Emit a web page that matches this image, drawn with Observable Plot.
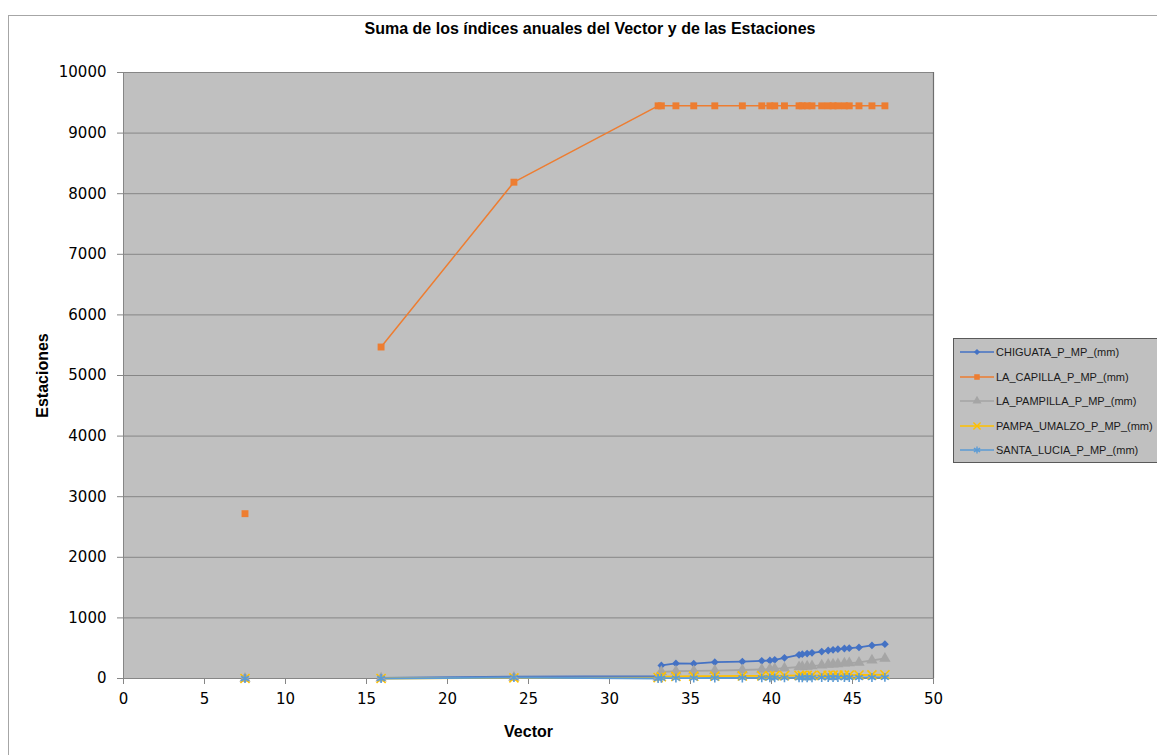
<!DOCTYPE html>
<html>
<head>
<meta charset="utf-8">
<script src="https://cdn.jsdelivr.net/npm/d3@7"></script>
<script src="https://cdn.jsdelivr.net/npm/@observablehq/plot@0.6"></script>
<style>
  body { margin: 0; background: #fff; }
  #chart { position: relative; width: 1157px; height: 755px; overflow: hidden; font-family: "Liberation Sans", Arial, sans-serif; }
  #border { position: absolute; left: 8px; top: 15px; width: 1200px; height: 800px; border: 1px solid #a6a6a6; box-sizing: border-box; }
  #title { position: absolute; left: 0; width: 1180px; top: 20px; text-align: center; font-weight: bold; font-size: 16px; color: #000; }
  #plot { position: absolute; left: 0; top: 0; }
  #legend { position: absolute; left: 953px; top: 338px; width: 230px; height: 125px; border: 1px solid #595959; background: #c0c0c0; box-sizing: border-box; }
  #legend .row { position: absolute; left: 6px; height: 20px; display: flex; align-items: center; font-size: 11px; color: #1a1a1a; white-space: nowrap; }
  #legend svg { margin-right: 2px; }
</style>
</head>
<body>
<div id="chart">
  <div id="border"></div>
  <div id="title">Suma de los índices anuales del Vector y de las Estaciones</div>
  <div id="plot"></div>
  <div id="legend"></div>
</div>
<script>
// Vector (x) shared by every station series
const vector = [7.5, 15.9, 24.1, 33.0, 33.2, 34.1, 35.2, 36.5, 38.2, 39.4, 39.9, 40.2, 40.8,
                41.7, 41.9, 42.2, 42.5, 43.1, 43.5, 43.8, 44.1, 44.5, 44.8, 45.4, 46.2, 47.0];

// Accumulated annual indices per station
const chiguata    = [0, 10, 30, 40, 215, 248, 245, 269, 280, 292, 297, 308, 341,
                     391, 401, 412, 423, 445, 462, 473, 484, 495, 500, 512, 545, 566];
const laCapilla   = [2720, 5470, 8190, 9450, 9450, 9450, 9450, 9450, 9450, 9450, 9450, 9450, 9450,
                     9450, 9450, 9450, 9450, 9450, 9450, 9450, 9450, 9450, 9450, 9450, 9450, 9450];
const laPampilla  = [0, 5, 15, 20, 110, 120, 125, 130, 140, 150, 155, 160, 170,
                     190, 195, 200, 205, 220, 230, 235, 240, 250, 255, 265, 300, 330];
const pampaUmalzo = [0, 0, 10, 15, 30, 35, 38, 40, 42, 44, 45, 46, 48,
                     50, 50, 51, 52, 53, 54, 55, 55, 56, 57, 58, 60, 62];
const santaLucia  = [0, 0, 15, 0, 5, 6, 7, 8, 9, 10, 10, 11, 11,
                     12, 12, 13, 13, 14, 14, 15, 15, 15, 16, 16, 17, 18];

const xTicks = [0, 5, 10, 15, 20, 25, 30, 35, 40, 45, 50];
const yTicks = [0, 1000, 2000, 3000, 4000, 5000, 6000, 7000, 8000, 9000, 10000];

const seriesNames = ["CHIGUATA_P_MP_(mm)", "LA_CAPILLA_P_MP_(mm)", "LA_PAMPILLA_P_MP_(mm)",
                     "PAMPA_UMALZO_P_MP_(mm)", "SANTA_LUCIA_P_MP_(mm)"];
const seriesValues = [chiguata, laCapilla, laPampilla, pampaUmalzo, santaLucia];
const seriesColors = ["#4472c4", "#ed7d31", "#a5a5a5", "#ffc000", "#5b9bd5"];

// marker style per series (diamond, square, triangle, x, asterisk)
const markers = [
  {symbol: "square", r: 3.1, rotate: 45, filled: true},
  {symbol: "square", r: 3.9, rotate: 0, filled: true},
  {symbol: "triangle", r: 4.2, rotate: 0, filled: true},
  {symbol: "times", r: 4.2, rotate: 0, filled: false},
  {symbol: "asterisk", r: 4.2, rotate: 0, filled: false}
];

const rows = seriesValues.map((vals, s) =>
  vector.map((x, i) => ({x, y: vals[i], i, s}))
);

const fmt = d => String(d);

const marks = [
  Plot.frame({fill: "#c0c0c0", stroke: null}),
  Plot.gridY(yTicks.slice(1), {stroke: "#868686", strokeOpacity: 1, strokeWidth: 1}),
  Plot.axisY(yTicks, {tickSize: 6, text: null, stroke: "#868686", label: null}),
  Plot.axisY(yTicks, {tickSize: 0, tickPadding: 17, fill: "#000", fontSize: 15, fontFamily: "DejaVu Sans", tickFormat: fmt, label: null}),
  Plot.axisX(xTicks, {tickSize: 6, text: null, stroke: "#868686", label: null}),
  Plot.axisX(xTicks, {tickSize: 0, tickPadding: 15, fill: "#000", fontSize: 15, fontFamily: "DejaVu Sans", tickFormat: fmt, label: null}),
  Plot.ruleX([0], {stroke: "#868686"}),
  Plot.ruleY([0], {stroke: "#868686"}),
  Plot.ruleX([50], {stroke: "#6e6e6e", strokeWidth: 1.2}),
  Plot.text(["Estaciones"], {frameAnchor: "left", textAnchor: "middle", dx: -81, rotate: -90, fontWeight: "bold", fontSize: 16, fill: "#000"}),
  Plot.text(["Vector"], {frameAnchor: "bottom", dy: 58, fontWeight: "bold", fontSize: 16, fill: "#000"})
];

// lines start at the second vector value: the first reading stands alone
rows.forEach((data, s) => {
  marks.push(Plot.line(data.filter(d => d.i >= 1), {
    x: "x", y: "y", stroke: seriesColors[s], strokeWidth: s === 1 ? 1.5 : 1.8
  }));
});
rows.forEach((data, s) => {
  const m = markers[s];
  marks.push(Plot.dot(data, {
    x: "x", y: "y", symbol: m.symbol, r: m.r, rotate: m.rotate,
    fill: m.filled ? seriesColors[s] : "none",
    stroke: m.filled ? "none" : seriesColors[s], strokeWidth: 1.6
  }));
});

const chart = Plot.plot({
  width: 1157,
  height: 755,
  marginLeft: 123,
  marginRight: 224,
  marginTop: 72,
  marginBottom: 77,
  x: {domain: [0, 50], axis: null},
  y: {domain: [0, 10000], axis: null},
  style: {background: "transparent", fontFamily: "Liberation Sans, Arial, sans-serif", overflow: "visible"},
  marks
});
document.getElementById("plot").appendChild(chart);

// legend
const legend = d3.select("#legend");
seriesNames.forEach((name, s) => {
  const row = legend.append("div").attr("class", "row").style("top", (3 + s * 24.5) + "px");
  const svg = row.append("svg").attr("width", 34).attr("height", 20);
  svg.append("line").attr("x1", 0).attr("x2", 34).attr("y1", 10).attr("y2", 10)
     .attr("stroke", seriesColors[s]).attr("stroke-width", 1.5);
  const m = markers[s];
  const symMap = {square: d3.symbolSquare, triangle: d3.symbolTriangle, times: d3.symbolTimes, asterisk: d3.symbolAsterisk};
  const size = Math.PI * (m.r * 0.8) ** 2;
  svg.append("path").attr("d", d3.symbol(symMap[m.symbol], size)())
     .attr("transform", `translate(17,10) rotate(${m.rotate})`)
     .attr("fill", m.filled ? seriesColors[s] : "none")
     .attr("stroke", m.filled ? "none" : seriesColors[s]).attr("stroke-width", 1.4);
  row.append("span").text(name);
});
</script>
</body>
</html>
